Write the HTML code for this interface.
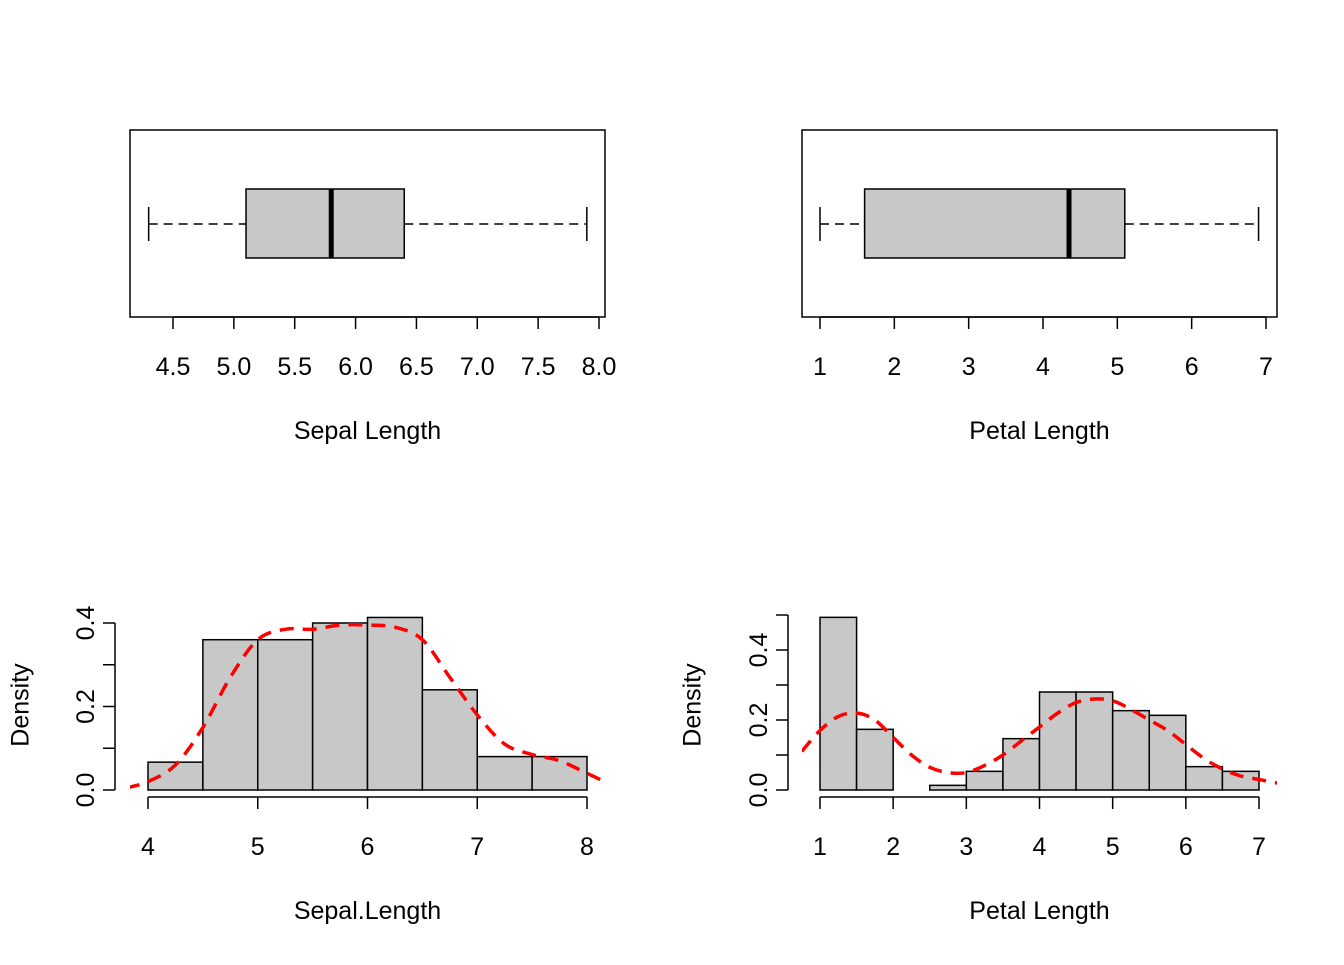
<!DOCTYPE html>
<html><head><meta charset="utf-8"><style>
body{margin:0;background:#fff}
svg text{font-family:"Liberation Sans",Arial,sans-serif;font-size:25px;fill:#000}
</style></head><body>
<svg id="chart" width="1344" height="960" viewBox="0 0 1344 960" xmlns="http://www.w3.org/2000/svg">
<defs>
<clipPath id="clipL"><rect x="130" y="596" width="475" height="202"/></clipPath>
<clipPath id="clipR"><rect x="802" y="596" width="475" height="202"/></clipPath>
</defs>
</svg>
<script>
const NS="http://www.w3.org/2000/svg";
const svg=document.getElementById('chart');
// ---- data ----
const sepalStats=[4.3,5.1,5.8,6.4,7.9];
const petalStats=[1.0,1.6,4.35,5.1,6.9];
const sepalBoxTicks=["4.5","5.0","5.5","6.0","6.5","7.0","7.5","8.0"];
const petalBoxTicks=["1","2","3","4","5","6","7"];
const sepalBreaks=[4,4.5,5,5.5,6,6.5,7,7.5,8];
const sepalDens=[0.0667,0.36,0.36,0.4,0.4133,0.24,0.08,0.08];
const petalBreaks=[1,1.5,2,2.5,3,3.5,4,4.5,5,5.5,6,6.5,7];
const petalDens=[0.4933,0.1733,0,0.0133,0.0533,0.1467,0.28,0.28,0.2267,0.2133,0.0667,0.0533];
const sepalKdeX=[3.8,4.0,4.25,4.5,4.75,5.0,5.25,5.5,5.75,6.0,6.25,6.5,6.75,7.0,7.25,7.5,7.75,8.0,8.2];
const sepalKdeY=[0.005,0.02,0.06,0.15,0.27,0.36,0.385,0.385,0.395,0.395,0.39,0.36,0.27,0.18,0.11,0.085,0.07,0.04,0.015];
const petalKdeX=[0.75,1.0,1.25,1.5,1.75,2.0,2.25,2.5,2.75,3.0,3.25,3.5,3.75,4.0,4.25,4.5,4.75,5.0,5.25,5.5,5.75,6.0,6.25,6.5,6.75,7.0,7.25];
const petalKdeY=[0.11,0.17,0.21,0.22,0.2,0.15,0.1,0.065,0.05,0.05,0.07,0.1,0.14,0.18,0.22,0.25,0.26,0.255,0.23,0.2,0.17,0.13,0.09,0.06,0.04,0.03,0.02];
const sepalHistTicks=["4","5","6","7","8"];
const petalHistTicks=["1","2","3","4","5","6","7"];
const densTicksL=[0,0.1,0.2,0.3,0.4];
const densTicksR=[0,0.1,0.2,0.3,0.4,0.5];
const densLabels=["0.0","0.2","0.4"];

function el(tag,attrs,parent,text){const e=document.createElementNS(NS,tag);for(const k in attrs)e.setAttribute(k,attrs[k]);if(text!==undefined)e.textContent=text;(parent||svg).appendChild(e);return e;}

function smoothPath(p){
  let d='M'+p[0][0].toFixed(1)+','+p[0][1].toFixed(1);
  for(let i=0;i<p.length-1;i++){
    const p0=p[Math.max(i-1,0)],p1=p[i],p2=p[i+1],p3=p[Math.min(i+2,p.length-1)];
    const c1=[p1[0]+(p2[0]-p0[0])/6,p1[1]+(p2[1]-p0[1])/6];
    const c2=[p2[0]-(p3[0]-p1[0])/6,p2[1]-(p3[1]-p1[1])/6];
    d+=` C${c1[0].toFixed(1)},${c1[1].toFixed(1)} ${c2[0].toFixed(1)},${c2[1].toFixed(1)} ${p2[0].toFixed(1)},${p2[1].toFixed(1)}`;
  }
  return d;
}

function boxplot(stats,ticks,x0,x1,v0,v1,title,cx,name){
  const sx=v=>x0+(v-v0)/(v1-v0)*(x1-x0);
  const g=el('g',{});
  
  
  const frame=el('rect',{x:cx-237.5,y:130,width:475,height:187,fill:'none',stroke:'#000','stroke-width':1.5},g);
  
  const yc=224;
  [[stats[0],stats[1]],[stats[3],stats[4]]].forEach(p=>{
    const w=el('line',{x1:sx(p[0]),x2:sx(p[1]),y1:yc,y2:yc,stroke:'#000','stroke-width':1.5,'stroke-dasharray':'9,6'},g);
    
  });
  [stats[0],stats[4]].forEach(v=>{const c=el('line',{x1:sx(v),x2:sx(v),y1:207,y2:241,stroke:'#000','stroke-width':1.5},g);
    });
  const b=el('rect',{x:sx(stats[1]),y:189,width:sx(stats[3])-sx(stats[1]),height:69,fill:'#c8c8c8',stroke:'#000','stroke-width':1.5},g);
  
  const m=el('line',{x1:sx(stats[2]),x2:sx(stats[2]),y1:189,y2:258,stroke:'#000','stroke-width':5},g);
  
  const vals=ticks.map(Number);
  const ax=el('line',{x1:sx(vals[0]),x2:sx(vals[vals.length-1]),y1:317,y2:317,stroke:'#000','stroke-width':1.5},g);
  
  ticks.forEach(t=>{const v=Number(t);
    el('line',{x1:sx(v),x2:sx(v),y1:317,y2:329,stroke:'#000','stroke-width':1.5},g);
    const tl=el('text',{x:sx(v),y:375,'text-anchor':'middle'},g,t);
    });
  const tt=el('text',{x:cx,y:439,'text-anchor':'middle'},g,title);
  
}

function hist(breaks,dens,kx,ky,ticks,x0,x1,v0,v1,yUnit,dTicks,axisX,clip,title,cx,name){
  const sx=v=>x0+(v-v0)/(v1-v0)*(x1-x0);
  const sy=d=>790-d*yUnit;
  const g=el('g',{});
  
  
  dens.forEach((d,i)=>{
    const r=el('rect',{x:sx(breaks[i]),y:sy(d),width:sx(breaks[i+1])-sx(breaks[i]),height:790-sy(d),fill:'#c8c8c8',stroke:'#000','stroke-width':1.5},g);
    
  });
  const pts=kx.map((x,i)=>[sx(x),sy(ky[i])]);
  const k=el('path',{d:smoothPath(pts),fill:'none',stroke:'#ff0000','stroke-width':3.5,'stroke-dasharray':'14,9','clip-path':'url(#'+clip+')'},g);
  
  const vals=ticks.map(Number);
  const ax=el('line',{x1:sx(vals[0]),x2:sx(vals[vals.length-1]),y1:797,y2:797,stroke:'#000','stroke-width':1.5},g);
  
  ticks.forEach(t=>{const v=Number(t);
    el('line',{x1:sx(v),x2:sx(v),y1:797,y2:809,stroke:'#000','stroke-width':1.5},g);
    const tl=el('text',{x:sx(v),y:855,'text-anchor':'middle'},g,t);
    });
  const ay=el('line',{x1:axisX,x2:axisX,y1:sy(dTicks[0]),y2:sy(dTicks[dTicks.length-1]),stroke:'#000','stroke-width':1.5},g);
  
  dTicks.forEach(d=>el('line',{x1:axisX-12,x2:axisX,y1:sy(d),y2:sy(d),stroke:'#000','stroke-width':1.5},g));
  densLabels.forEach(l=>{const y=sy(Number(l));
    const tl=el('text',{x:axisX-21,y:y,'text-anchor':'middle',transform:`rotate(-90 ${axisX-21} ${y})`},g,l);
    });
  const yt=el('text',{x:cx-339,y:705,'text-anchor':'middle',transform:`rotate(-90 ${cx-339} 705)`},g,'Density');
  
  const tt=el('text',{x:cx,y:919,'text-anchor':'middle'},g,title);
  
}

boxplot(sepalStats,sepalBoxTicks,173,599,4.5,8.0,'Sepal Length',367.5,'sepal-boxplot');
boxplot(petalStats,petalBoxTicks,820,1266,1,7,'Petal Length',1039.5,'petal-boxplot');
hist(sepalBreaks,sepalDens,sepalKdeX,sepalKdeY,sepalHistTicks,148,587,4,8,417.5,densTicksL,115,'clipL','Sepal.Length',367.5,'sepal-histogram');
hist(petalBreaks,petalDens,petalKdeX,petalKdeY,petalHistTicks,820,1259,1,7,350,densTicksR,788,'clipR','Petal Length',1039.5,'petal-histogram');
</script>
</body></html>
